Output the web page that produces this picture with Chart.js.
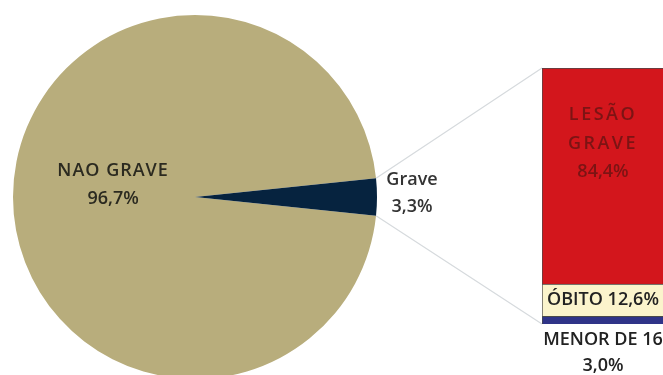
<!DOCTYPE html>
<html>
<head>
<meta charset="utf-8">
<script src="https://cdn.jsdelivr.net/npm/chart.js@4/dist/chart.umd.min.js"></script>
<style>
  html, body { margin: 0; padding: 0; background: #fff; }
  #wrap { position: relative; width: 663px; height: 375px; overflow: hidden; }
  #wrap canvas { position: absolute; left: 0; top: 0; }
</style>
</head>
<body>
<div id="wrap">
  <canvas id="pieChart" width="663" height="400"></canvas>
  <canvas id="barChart" width="700" height="375"></canvas>
</div>
<script>
// pie: all cases, split by severity
let pieLabels = ["NAO GRAVE", "Grave"];
let pieValues = [96.7, 3.3];
let pieColors = ["#b8ad7c", "#06233f"];

// bar: breakdown of the "Grave" slice (bottom to top)
let barLabels = ["MENOR DE 16", "ÓBITO", "LESÃO GRAVE"];
let barValues = [3.0, 12.6, 84.4];
let barColors = ["#2f3488", "#fbf4cc", "#d3161c"];

let fontFamily = "'Open Sans', 'DejaVu Sans', sans-serif";

function pct(v) {
    return v.toFixed(1).replace(".", ",") + "%";
}

function textLines(ctx, lines, x, y, gap) {
    lines.forEach(function (t, i) {
        ctx.fillText(t, x, y + i * gap);
    });
}

// turn the pie so the small slice points to the right
let pieTotal = pieValues.reduce((a, b) => a + b, 0);
let pieRotation = 90 - 360 * (pieValues[0] + pieValues[1] / 2) / pieTotal;

let pieText = {
    id: "pieText",
    afterDatasetsDraw(chart) {
        let ctx = chart.ctx;
        let arcs = chart.getDatasetMeta(0).data;
        ctx.save();
        ctx.font = "600 18px " + fontFamily;
        ctx.textAlign = "center";
        ctx.textBaseline = "middle";

        // big slice label, inside
        let big = arcs[0];
        let mid = (big.startAngle + big.endAngle) / 2;
        let r = big.outerRadius * 0.45;
        let bx = big.x + Math.cos(mid) * r;
        let by = big.y + Math.sin(mid) * r;
        ctx.fillStyle = "#2b2a20";
        ctx.letterSpacing = "1px";
        ctx.fillText(pieLabels[0], bx, by - 26);
        ctx.letterSpacing = "0px";
        ctx.fillText(pct(pieValues[0]), bx, by + 2);

        // small slice label, outside
        let small = arcs[1];
        let sx = small.x + small.outerRadius + 35;
        ctx.fillStyle = "#333333";
        textLines(ctx, [pieLabels[1], pct(pieValues[1])], sx, small.y - 17, 27);
        ctx.restore();
    }
};

let pieChart = new Chart(document.getElementById("pieChart"), {
    type: "pie",
    data: {
        labels: pieLabels,
        datasets: [{
            data: pieValues,
            backgroundColor: pieColors,
            borderWidth: 0,
        }],
    },
    options: {
        responsive: false,
        animation: false,
        rotation: pieRotation,
        layout: { padding: { left: 13, top: 15, right: 286, bottom: 21 } },
        plugins: {
            legend: { display: false },
            tooltip: { enabled: false },
        },
    },
    plugins: [pieText],
});

// lines from the small slice to the bar
let connectors = {
    id: "connectors",
    beforeDatasetsDraw(chart) {
        let arc = pieChart.getDatasetMeta(0).data[1];
        let top = chart.getDatasetMeta(barValues.length - 1).data[0];
        let bottom = chart.getDatasetMeta(0).data[0];
        let left = top.x - top.width / 2;
        let R = arc.outerRadius;
        let ctx = chart.ctx;
        ctx.save();
        ctx.strokeStyle = "#d6dadd";
        ctx.lineWidth = 1.2;
        ctx.beginPath();
        ctx.moveTo(arc.x + Math.cos(arc.startAngle) * R, arc.y + Math.sin(arc.startAngle) * R);
        ctx.lineTo(left, top.y);
        ctx.moveTo(arc.x + Math.cos(arc.endAngle) * R, arc.y + Math.sin(arc.endAngle) * R);
        ctx.lineTo(left, bottom.base);
        ctx.stroke();
        ctx.restore();
    }
};

let barText = {
    id: "barText",
    afterDatasetsDraw(chart) {
        let ctx = chart.ctx;
        let menor = chart.getDatasetMeta(0).data[0];
        let obito = chart.getDatasetMeta(1).data[0];
        let lesao = chart.getDatasetMeta(2).data[0];
        let cx = lesao.x;
        ctx.save();
        ctx.font = "600 18px " + fontFamily;
        ctx.textAlign = "center";
        ctx.textBaseline = "middle";

        let h = lesao.base - lesao.y;
        let ly = lesao.y + h * 0.35;
        ctx.fillStyle = "#7c1414";
        ctx.letterSpacing = "2.5px";
        ctx.fillText("LESÃO", cx, ly - 29);
        ctx.fillText("GRAVE", cx, ly);
        ctx.letterSpacing = "0px";
        ctx.fillText(pct(barValues[2]), cx, ly + 28);

        ctx.fillStyle = "#222222";
        ctx.fillText(barLabels[1] + " " + pct(barValues[1]), cx, (obito.y + obito.base) / 2);

        textLines(ctx, [barLabels[0], pct(barValues[0])], cx, menor.base + 16, 26);
        ctx.restore();
    }
};

let barChart = new Chart(document.getElementById("barChart"), {
    type: "bar",
    data: {
        labels: [""],
        datasets: barLabels.map(function (label, i) {
            return {
                label: label,
                data: [barValues[i]],
                backgroundColor: barColors[i],
                borderColor: "#4a4a4a",
                borderWidth: 1,
                barPercentage: 1,
                categoryPercentage: 1,
            };
        }),
    },
    options: {
        responsive: false,
        animation: false,
        layout: { padding: { left: 542, top: 68, right: 36, bottom: 51 } },
        scales: {
            x: { stacked: true, display: false },
            y: { stacked: true, display: false, min: 0, max: 100 },
        },
        plugins: {
            legend: { display: false },
            tooltip: { enabled: false },
        },
    },
    plugins: [connectors, barText],
});
</script>
</body>
</html>
